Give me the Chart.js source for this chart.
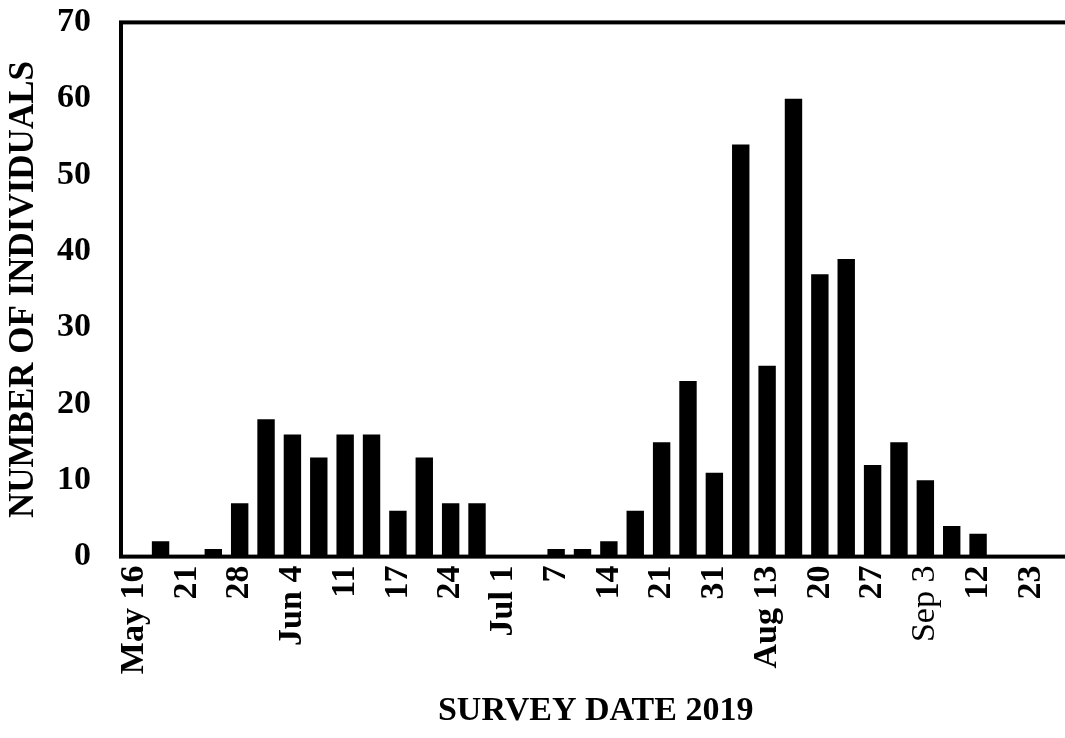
<!DOCTYPE html>
<html>
<head>
<meta charset="utf-8">
<script src="https://cdn.jsdelivr.net/npm/chart.js@4"></script>
<style>
  html, body { margin: 0; padding: 0; background: #fff; }
  #wrap { width: 1065px; height: 738px; overflow: hidden; }
  canvas { display: block; }
</style>
</head>
<body>
<div id="wrap"><canvas id="chart" width="1107" height="738"></canvas></div>
<script>
// survey dates, only every other one gets a tick label
const dateLabels = ['May 16', '', '21', '', '28', '', 'Jun 4', '', '11', '', '17', '', '24', '',
  'Jul 1', '', '7', '', '14', '', '21', '', '31', '', 'Aug 13', '', '20', '', '27', '',
  'Sep 3', '', '12', '', '23', ''];
const individuals = [0, 2, 0, 1, 7, 18, 16, 13, 16, 16, 6, 13, 7, 7,
  0, 0, 1, 1, 2, 6, 15, 23, 11, 54, 25, 60, 37, 39, 12, 15,
  10, 4, 3, 0, 0, 0];
const yTicks = [0, 10, 20, 30, 40, 50, 60, 70];

const FONT = '"Liberation Serif", "Times New Roman", serif';

// box round the plot area
const frame = {
  id: 'frame',
  afterDatasetsDraw(chart) {
    const { ctx, chartArea: a } = chart;
    ctx.save();
    ctx.strokeStyle = '#000';
    ctx.lineWidth = 4;
    ctx.strokeRect(a.left, a.top, a.right - a.left, a.bottom - a.top);
    ctx.restore();
  }
};

const ctx = document.getElementById('chart').getContext('2d');
new Chart(ctx, {
  type: 'bar',
  data: {
    labels: dateLabels,
    datasets: [{
      data: individuals,
      backgroundColor: '#000',
      borderWidth: 0,
      barPercentage: 0.66,
      categoryPercentage: 1
    }]
  },
  options: {
    responsive: false,
    animation: false,
    layout: { padding: { top: 22, right: 0, bottom: 0, left: 0 } },
    plugins: { legend: { display: false }, tooltip: { enabled: false } },
    scales: {
      x: {
        grid: { display: false, drawTicks: false },
        border: { display: false },
        ticks: {
          autoSkip: false,
          maxRotation: 90,
          minRotation: 90,
          padding: 9,
          color: '#000',
          font: {
            family: FONT,
            size: 34,
            weight: (c) => (dateLabels[c.index] === 'Sep 3' ? 'normal' : 'bold')
          }
        },
        title: {
          display: true,
          text: 'SURVEY DATE 2019',
          color: '#000',
          font: { family: FONT, size: 34, weight: 'bold' },
          padding: { top: 8, bottom: 6 }
        }
      },
      y: {
        min: 0,
        max: 70,
        grid: { display: false, drawTicks: true, tickLength: 28 },
        border: { display: false },
        afterBuildTicks: (scale) => { scale.ticks = yTicks.map(v => ({ value: v })); },
        ticks: {
          padding: 2,
          color: '#000',
          font: { family: FONT, size: 34, weight: 'bold' }
        },
        title: {
          display: true,
          text: 'NUMBER OF INDIVIDUALS',
          color: '#000',
          font: { family: FONT, size: 35, weight: 'bold' },
          padding: { top: 3, bottom: 10 }
        }
      }
    }
  },
  plugins: [frame]
});
</script>
</body>
</html>
